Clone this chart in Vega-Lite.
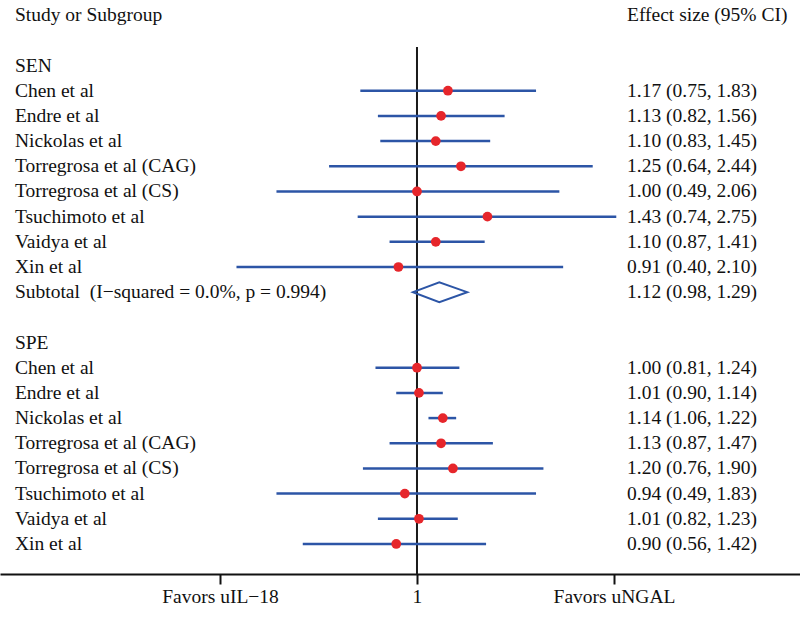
{
  "$schema": "https://vega.github.io/schema/vega-lite/v6.json",
  "width": 800,
  "height": 574,
  "padding": 0,
  "background": "white",
  "data": {
    "values": [
      {"key": "hdr", "study": "Study or Subgroup", "ci": "Effect size (95% CI)", "type": "header"},
      {"key": "SEN", "study": "SEN", "ci": "", "type": "header"},
      {"key": "SEN-Chen", "study": "Chen et al", "es": 1.17, "lo": 0.75, "hi": 1.83, "ci": "1.17 (0.75, 1.83)", "type": "study"},
      {"key": "SEN-Endre", "study": "Endre et al", "es": 1.13, "lo": 0.82, "hi": 1.56, "ci": "1.13 (0.82, 1.56)", "type": "study"},
      {"key": "SEN-Nickolas", "study": "Nickolas et al", "es": 1.10, "lo": 0.83, "hi": 1.45, "ci": "1.10 (0.83, 1.45)", "type": "study"},
      {"key": "SEN-TCAG", "study": "Torregrosa et al (CAG)", "es": 1.25, "lo": 0.64, "hi": 2.44, "ci": "1.25 (0.64, 2.44)", "type": "study"},
      {"key": "SEN-TCS", "study": "Torregrosa et al (CS)", "es": 1.00, "lo": 0.49, "hi": 2.06, "ci": "1.00 (0.49, 2.06)", "type": "study"},
      {"key": "SEN-Tsuchimoto", "study": "Tsuchimoto et al", "es": 1.43, "lo": 0.74, "hi": 2.75, "ci": "1.43 (0.74, 2.75)", "type": "study"},
      {"key": "SEN-Vaidya", "study": "Vaidya et al", "es": 1.10, "lo": 0.87, "hi": 1.41, "ci": "1.10 (0.87, 1.41)", "type": "study"},
      {"key": "SEN-Xin", "study": "Xin et al", "es": 0.91, "lo": 0.40, "hi": 2.10, "ci": "0.91 (0.40, 2.10)", "type": "study"},
      {"key": "SEN-Subtotal", "study": "Subtotal \u00a0(I−squared = 0.0%, p = 0.994)", "es": 1.12, "lo": 0.98, "hi": 1.29, "ci": "1.12 (0.98, 1.29)", "type": "subtotal"},
      {"key": "SPE", "study": "SPE", "ci": "", "type": "header"},
      {"key": "SPE-Chen", "study": "Chen et al", "es": 1.00, "lo": 0.81, "hi": 1.24, "ci": "1.00 (0.81, 1.24)", "type": "study"},
      {"key": "SPE-Endre", "study": "Endre et al", "es": 1.01, "lo": 0.90, "hi": 1.14, "ci": "1.01 (0.90, 1.14)", "type": "study"},
      {"key": "SPE-Nickolas", "study": "Nickolas et al", "es": 1.14, "lo": 1.06, "hi": 1.22, "ci": "1.14 (1.06, 1.22)", "type": "study"},
      {"key": "SPE-TCAG", "study": "Torregrosa et al (CAG)", "es": 1.13, "lo": 0.87, "hi": 1.47, "ci": "1.13 (0.87, 1.47)", "type": "study"},
      {"key": "SPE-TCS", "study": "Torregrosa et al (CS)", "es": 1.20, "lo": 0.76, "hi": 1.90, "ci": "1.20 (0.76, 1.90)", "type": "study"},
      {"key": "SPE-Tsuchimoto", "study": "Tsuchimoto et al", "es": 0.94, "lo": 0.49, "hi": 1.83, "ci": "0.94 (0.49, 1.83)", "type": "study"},
      {"key": "SPE-Vaidya", "study": "Vaidya et al", "es": 1.01, "lo": 0.82, "hi": 1.23, "ci": "1.01 (0.82, 1.23)", "type": "study"},
      {"key": "SPE-Xin", "study": "Xin et al", "es": 0.90, "lo": 0.56, "hi": 1.42, "ci": "0.90 (0.56, 1.42)", "type": "study"}
    ]
  },
  "encoding": {
    "y": {
      "field": "key",
      "type": "ordinal",
      "scale": {
        "type": "point",
        "domain": ["hdr", "b1", "SEN", "SEN-Chen", "SEN-Endre", "SEN-Nickolas", "SEN-TCAG", "SEN-TCS", "SEN-Tsuchimoto", "SEN-Vaidya", "SEN-Xin", "SEN-Subtotal", "b2", "SPE", "SPE-Chen", "SPE-Endre", "SPE-Nickolas", "SPE-TCAG", "SPE-TCS", "SPE-Tsuchimoto", "SPE-Vaidya", "SPE-Xin", "end"],
        "padding": 0.398,
        "align": 0.7585
      },
      "axis": null
    }
  },
  "layer": [
    {
      "data": {"values": [{}]},
      "mark": {"type": "rule", "color": "#1a1a1a", "strokeWidth": 2, "yOffset": 6.6, "y2Offset": 5.5},
      "encoding": {
        "x": {"datum": 1, "type": "quantitative"},
        "y": {"datum": "b1", "type": "ordinal"},
        "y2": {"datum": "end"}
      }
    },
    {
      "transform": [{"filter": "datum.type === 'study'"}],
      "mark": {"type": "rule", "color": "#2c55a6", "strokeWidth": 2.5},
      "encoding": {
        "x": {
          "field": "lo",
          "type": "quantitative",
          "scale": {"type": "log", "domain": [0.12043, 6.988], "nice": false, "zero": false},
          "axis": {
            "values": [0.367879, 1, 2.718282],
            "labelExpr": "datum.value < 0.5 ? 'Favors uIL−18' : (datum.value > 2 ? 'Favors uNGAL' : '1')",
            "title": null,
            "grid": false,
            "domainColor": "#111111",
            "domainWidth": 2,
            "tickColor": "#111111",
            "tickWidth": 2,
            "tickSize": 10,
            "labelFont": "Liberation Serif",
            "labelFontSize": 19.5,
            "labelColor": "#111111",
            "labelPadding": 3,
            "labelFlush": false,
            "labelOverlap": false
          }
        },
        "x2": {"field": "hi"}
      }
    },
    {
      "transform": [{"filter": "datum.type === 'study'"}],
      "mark": {"type": "point", "shape": "circle", "filled": true, "color": "#e6262b", "size": 95, "opacity": 1},
      "encoding": {
        "x": {"field": "es", "type": "quantitative"}
      }
    },
    {
      "transform": [{"filter": "datum.type === 'subtotal'"}],
      "mark": {"type": "point", "shape": "M -0.943 0 L 0 -0.358 L 1 0 L 0 0.358 Z", "filled": false, "stroke": "#2c55a6", "strokeWidth": 2, "size": 3114, "opacity": 1},
      "encoding": {
        "x": {"field": "es", "type": "quantitative"}
      }
    },
    {
      "mark": {"type": "text", "align": "left", "baseline": "middle", "font": "Liberation Serif", "fontSize": 19.5, "color": "#111111"},
      "encoding": {
        "x": {"datum": 0.1299, "type": "quantitative"},
        "text": {"field": "study"}
      }
    },
    {
      "mark": {"type": "text", "align": "left", "baseline": "middle", "font": "Liberation Serif", "fontSize": 19.5, "color": "#111111"},
      "encoding": {
        "x": {"datum": 2.904, "type": "quantitative"},
        "text": {"field": "ci"}
      }
    }
  ],
  "config": {
    "view": {"stroke": null}
  }
}
